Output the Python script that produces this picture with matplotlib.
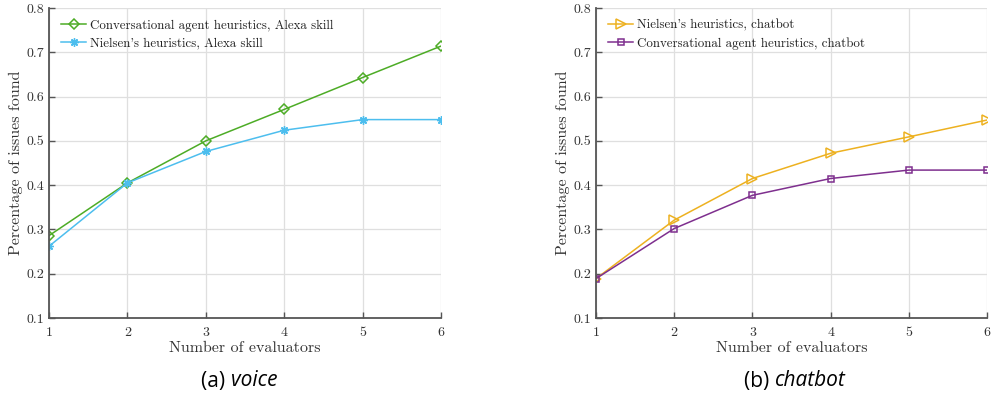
import matplotlib
matplotlib.use("Agg")
import matplotlib.pyplot as plt

evaluators = [1, 2, 3, 4, 5, 6]
voice_ca = [0.286, 0.405, 0.500, 0.571, 0.643, 0.714]
voice_nielsen = [0.262, 0.405, 0.476, 0.524, 0.548, 0.548]
chat_nielsen = [0.189, 0.321, 0.415, 0.472, 0.509, 0.547]
chat_ca = [0.189, 0.302, 0.377, 0.415, 0.434, 0.434]
yticks = [0.1, 0.2, 0.3, 0.4, 0.5, 0.6, 0.7, 0.8]

plt.rcParams['font.family'] = ['cmr10', 'DejaVu Serif']
plt.rcParams['axes.formatter.use_mathtext'] = True
plt.rcParams['mathtext.fontset'] = 'cm'

fig = plt.figure(figsize=(9.95, 4.04), dpi=100)
axL = fig.add_axes([49/995, 1-318/404, (441-49)/995, (318-8)/404])
axR = fig.add_axes([596/995, 1-318/404, (987-596)/995, (318-8)/404])

green = '#4DAC26'
blue = '#4DBEEE'
orange = '#EDB120'
purple = '#7E2F8E'

axL.plot(evaluators, voice_ca, color=green, marker='D', mfc='none', ms=5.5, mew=1.1, lw=1.1,
         label='Conversational agent heuristics, Alexa skill')
axL.plot(evaluators, voice_nielsen, color=blue, marker=(8, 2, 0), ms=6, mew=1.0, lw=1.1,
         label="Nielsen's heuristics, Alexa skill")
axR.plot(evaluators, chat_nielsen, color=orange, marker='>', mfc='none', ms=7, mew=1.1, lw=1.1,
         label="Nielsen's heuristics, chatbot")
axR.plot(evaluators, chat_ca, color=purple, marker='s', mfc='none', ms=5, mew=1.1, lw=1.1,
         label='Conversational agent heuristics, chatbot')

for ax in (axL, axR):
    ax.set_xlim(1, 6)
    ax.set_ylim(0.1, 0.8)
    ax.set_xticks(evaluators)
    ax.set_yticks(yticks)
    ax.set_xticklabels([str(v) for v in evaluators])
    ax.set_yticklabels([f'{v:.1f}' for v in yticks])
    ax.grid(True, color='#DFDFDF', lw=0.9)
    ax.set_axisbelow(True)
    for s in ('top', 'right'):
        ax.spines[s].set_visible(False)
    for s in ('left', 'bottom'):
        ax.spines[s].set_color('#555555')
        ax.spines[s].set_linewidth(1.3)
    ax.tick_params(direction='in', length=4, width=1.0, color='#555555',
                   labelsize=10, labelcolor='#333333')
    ax.tick_params(axis='x', pad=6.5)
    ax.tick_params(axis='y', pad=3.5)
    ax.set_xlabel('Number of evaluators', fontsize=11.5, color='#333333', labelpad=1.5)
    ax.set_ylabel('Percentage of issues found', fontsize=11.5, color='#333333', labelpad=2)
    leg = ax.legend(loc='upper left', frameon=False, fontsize=9.3, handlelength=2.0,
                    handletextpad=0.3, borderaxespad=0.5, labelspacing=0.4)
    for t in leg.get_texts():
        t.set_color('#222222')

fs = 15
yc = 1 - 381/404
fig.text(231/995, yc, '(a) ', family='Open Sans', ha='right', va='center', fontsize=fs)
fig.text(231/995, yc, 'voice', family='Open Sans', style='italic', ha='left', va='center', fontsize=fs)
fig.text(775/995, yc, '(b) ', family='Open Sans', ha='right', va='center', fontsize=fs)
fig.text(775/995, yc, 'chatbot', family='Open Sans', style='italic', ha='left', va='center', fontsize=fs)

fig.savefig('out.png', dpi=100)
